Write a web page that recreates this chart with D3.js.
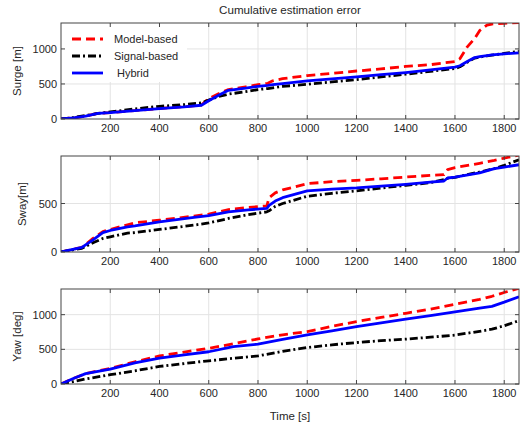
<html>
<head>
<script src="https://d3js.org/d3.v7.min.js"></script>
<style>
  body { margin: 0; background: #fff; }
  text { font-family: "Liberation Sans", Arial, sans-serif; fill: #262626; }
</style>
</head>
<body>
<svg id="chart" width="527" height="423"></svg>
<script>
// ---- data ----
const seriesNames = ['Model-based', 'Signal-based', ' Hybrid'];
const xTicks = [200, 400, 600, 800, 1000, 1200, 1400, 1600, 1800];

const surgeTime   = [0, 50, 100, 150, 200, 300, 400, 500, 570, 600, 640, 680, 750, 800, 840, 860, 900, 1000, 1100, 1200, 1300, 1400, 1500, 1600, 1620, 1650, 1680, 1700, 1730, 1750, 1800, 1860];
const surgeModel  = [0, 15, 40, 80, 90, 120, 150, 175, 200, 290, 360, 420, 460, 490, 510, 545, 575, 620, 650, 685, 715, 750, 775, 820, 860, 1030, 1150, 1260, 1340, 1355, 1365, 1375];
const surgeSignal = [0, 20, 50, 80, 100, 145, 181, 205, 230, 270, 320, 355, 390, 420, 435, 445, 465, 496, 530, 563, 600, 640, 680, 720, 745, 810, 870, 885, 900, 910, 935, 965];
const surgeHybrid = [0, 15, 40, 80, 90, 120, 148, 172, 196, 260, 340, 410, 440, 467, 480, 490, 505, 543, 572, 600, 632, 663, 700, 740, 760, 820, 877, 890, 905, 915, 930, 945];

const swayTime   = [0, 85, 130, 170, 200, 270, 300, 400, 540, 600, 680, 760, 836, 845, 870, 900, 1000, 1100, 1200, 1300, 1400, 1500, 1555, 1570, 1600, 1700, 1760, 1800, 1860];
const swayModel  = [0, 48, 140, 210, 233, 280, 301, 328, 370, 390, 438, 460, 475, 560, 610, 640, 705, 725, 739, 755, 773, 790, 797, 849, 870, 915, 945, 968, 1000];
const swaySignal = [0, 38, 95, 140, 157, 195, 200, 233, 277, 300, 346, 385, 414, 425, 470, 500, 575, 605, 630, 660, 688, 715, 746, 760, 770, 825, 860, 893, 951];
const swayHybrid = [0, 48, 125, 200, 222, 260, 270, 311, 356, 375, 414, 435, 449, 480, 525, 560, 630, 648, 661, 680, 698, 720, 732, 763, 772, 817, 859, 875, 900];

const yawTime   = [0, 50, 100, 200, 300, 400, 500, 600, 700, 800, 900, 1000, 1100, 1200, 1300, 1400, 1500, 1600, 1700, 1750, 1800, 1860];
const yawModel  = [0, 80, 150, 225, 320, 405, 460, 515, 580, 650, 710, 756, 830, 900, 960, 1020, 1080, 1150, 1220, 1265, 1320, 1380];
const yawSignal = [0, 35, 72, 134, 190, 253, 295, 335, 370, 405, 470, 526, 565, 598, 625, 647, 675, 705, 760, 790, 840, 914];
const yawHybrid = [0, 80, 150, 215, 305, 374, 420, 465, 540, 575, 645, 708, 765, 828, 880, 934, 985, 1040, 1095, 1120, 1180, 1259];

const panels = [
  { label: 'Surge [m]', time: surgeTime, ys: [surgeModel, surgeSignal, surgeHybrid], ymax: 1370, yTicks: [0, 500, 1000], top: 23, bottom: 119, labelX: 17, legend: true },
  { label: 'Sway[m]',   time: swayTime,  ys: [swayModel, swaySignal, swayHybrid],    ymax: 990,  yTicks: [0, 500],       top: 156, bottom: 252, labelX: 22 },
  { label: 'Yaw [deg]', time: yawTime,   ys: [yawModel, yawSignal, yawHybrid],       ymax: 1370, yTicks: [0, 500, 1000], top: 289, bottom: 384, labelX: 17 }
];

const colors = ['#ff0000', '#000000', '#0000ff'];
const dashes = ['9,5', '8,3,2,3', null];

const svg = d3.select('svg#chart');
const left = 61, right = 519;

const x = d3.scaleLinear().domain([0, 1860]).range([left, right]);

svg.append('text')
   .attr('x', (left + right) / 2).attr('y', 14)
   .attr('text-anchor', 'middle').attr('font-size', 11.6)
   .text('Cumulative estimation error');

panels.forEach((p, pi) => {
  const y = d3.scaleLinear().domain([0, p.ymax]).range([p.bottom, p.top]);
  const g = svg.append('g');

  // grid
  g.selectAll('line.vgrid').data(xTicks).join('line')
   .attr('x1', d => x(d)).attr('x2', d => x(d))
   .attr('y1', p.top).attr('y2', p.bottom)
   .attr('stroke', '#e3e3e3').attr('stroke-width', 1);
  g.selectAll('line.hgrid').data(p.yTicks.filter(d => d > 0)).join('line')
   .attr('x1', left).attr('x2', right)
   .attr('y1', d => y(d)).attr('y2', d => y(d))
   .attr('stroke', '#e3e3e3').attr('stroke-width', 1);

  // clip
  const cid = 'clip' + pi;
  svg.append('clipPath').attr('id', cid).append('rect')
     .attr('x', left).attr('y', p.top).attr('width', right - left).attr('height', p.bottom - p.top);

  // legend background hides grid
  if (p.legend) {
    g.append('rect').attr('x', left + 1).attr('y', p.top + 1)
     .attr('width', 125).attr('height', 58).attr('fill', '#fff');
  }

  const line = d3.line().x(d => x(d[0])).y(d => y(d[1]));
  p.ys.forEach((vals, si) => {
    const pts = p.time.map((t, i) => [t, vals[i]]);
    g.append('path').datum(pts)
     .attr('d', line)
     .attr('fill', 'none')
     .attr('stroke', colors[si])
     .attr('stroke-width', 2.8)
     .attr('stroke-dasharray', dashes[si])
     .attr('stroke-linejoin', 'round')
     .attr('clip-path', `url(#${cid})`);
  });

  // box
  g.append('rect').attr('x', left).attr('y', p.top)
   .attr('width', right - left).attr('height', p.bottom - p.top)
   .attr('fill', 'none').attr('stroke', '#444').attr('stroke-width', 1);

  // ticks inside on all four sides
  g.selectAll('line.xt').data(xTicks).join('line')
   .attr('x1', d => x(d)).attr('x2', d => x(d))
   .attr('y1', p.bottom).attr('y2', p.bottom - 4)
   .attr('stroke', '#444');
  g.selectAll('line.xtt').data(xTicks).join('line')
   .attr('x1', d => x(d)).attr('x2', d => x(d))
   .attr('y1', p.top).attr('y2', p.top + 4)
   .attr('stroke', '#444');
  g.selectAll('line.yt').data(p.yTicks).join('line')
   .attr('x1', left).attr('x2', left + 4)
   .attr('y1', d => y(d)).attr('y2', d => y(d))
   .attr('stroke', '#444');
  g.selectAll('line.ytr').data(p.yTicks).join('line')
   .attr('x1', right).attr('x2', right - 4)
   .attr('y1', d => y(d)).attr('y2', d => y(d))
   .attr('stroke', '#444');

  // tick labels
  g.selectAll('text.xl').data(xTicks).join('text')
   .attr('x', d => x(d)).attr('y', p.bottom + 13)
   .attr('text-anchor', 'middle').attr('font-size', 11)
   .text(d => d);
  g.selectAll('text.yl').data(p.yTicks).join('text')
   .attr('x', left - 4).attr('y', d => y(d) + 4)
   .attr('text-anchor', 'end').attr('font-size', 11)
   .text(d => d);

  // y label
  g.append('text')
   .attr('transform', `translate(${p.labelX},${(p.top + p.bottom) / 2}) rotate(-90)`)
   .attr('text-anchor', 'middle').attr('dy', '0.35em').attr('font-size', 11.5)
   .text(p.label);

  // legend
  if (p.legend) {
    const rows = [39, 56, 73];
    seriesNames.forEach((name, si) => {
      g.append('line')
       .attr('x1', 72).attr('x2', 103)
       .attr('y1', rows[si]).attr('y2', rows[si])
       .attr('stroke', colors[si]).attr('stroke-width', 2.8)
       .attr('stroke-dasharray', dashes[si]);
      g.append('text')
       .attr('x', 114).attr('y', rows[si] + 4)
       .attr('font-size', 11).attr('xml:space', 'preserve')
       .style('white-space', 'pre')
       .text(name);
    });
  }
});

svg.append('text')
   .attr('x', (left + right) / 2).attr('y', 420)
   .attr('text-anchor', 'middle').attr('font-size', 11.5)
   .text('Time [s]');
</script>
</body>
</html>
